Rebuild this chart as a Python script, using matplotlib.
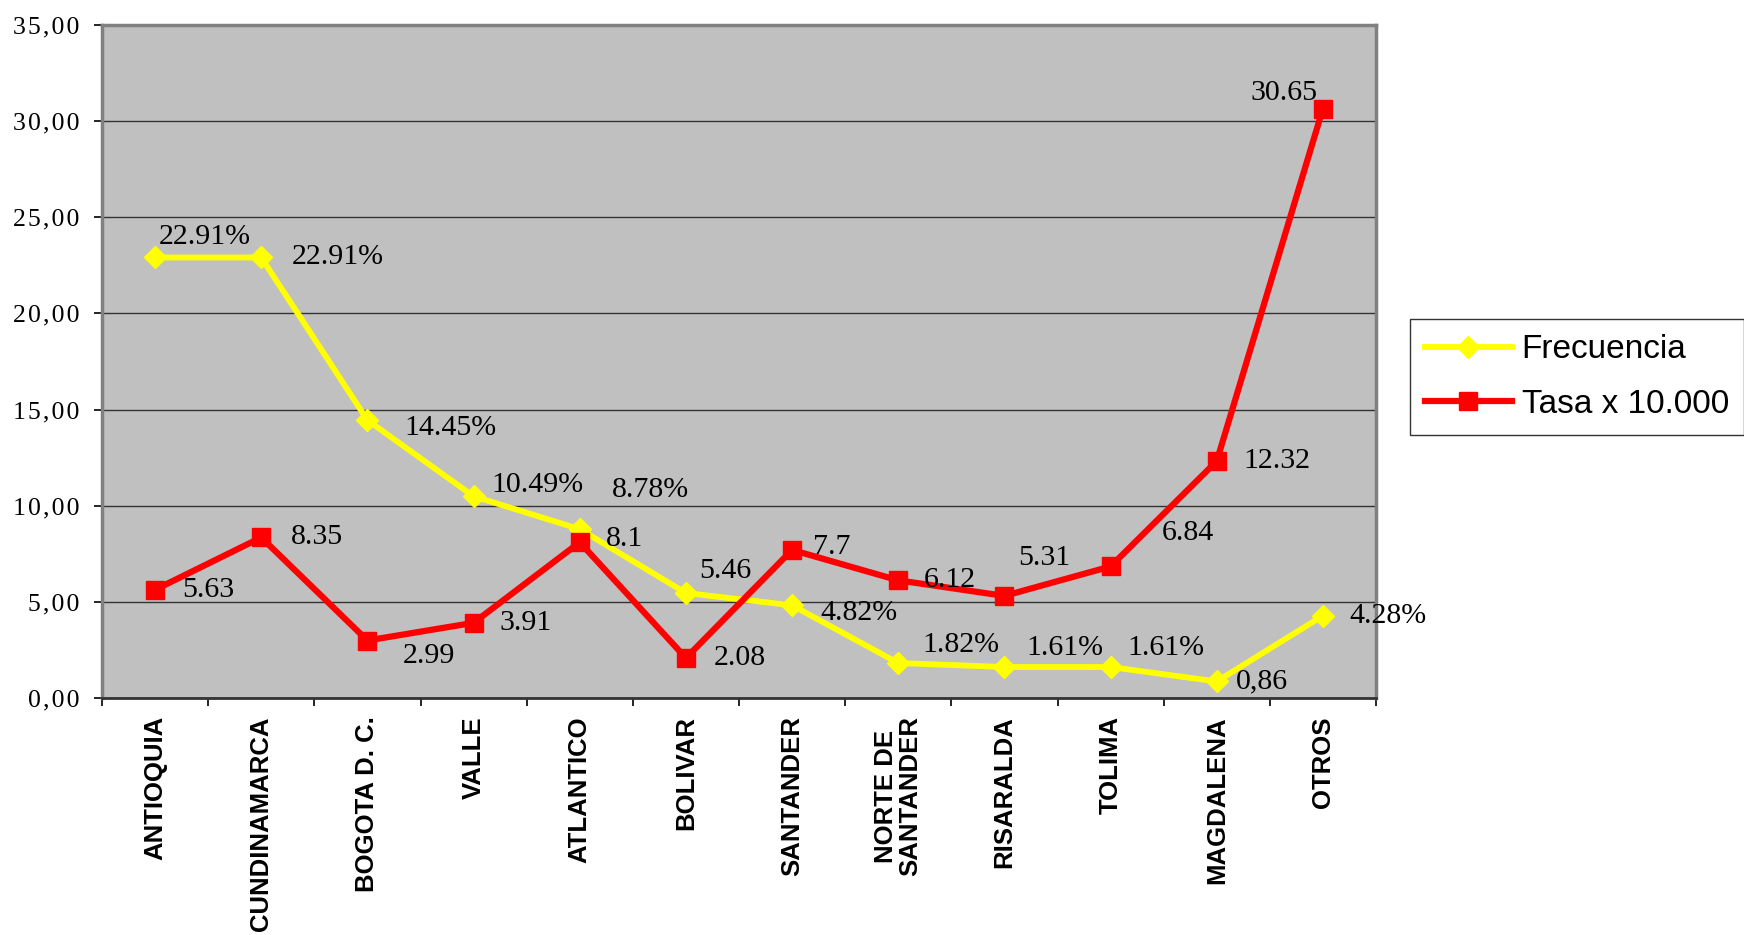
import numpy as np
import matplotlib.pyplot as plt
from matplotlib.ticker import MultipleLocator, FuncFormatter

departamentos = ["ANTIOQUIA", "CUNDINAMARCA", "BOGOTA D. C.", "VALLE", "ATLANTICO",
                 "BOLIVAR", "SANTANDER", "NORTE DE\nSANTANDER", "RISARALDA", "TOLIMA",
                 "MAGDALENA", "OTROS"]
frecuencia = [22.91, 22.91, 14.45, 10.49, 8.78, 5.46, 4.82, 1.82, 1.61, 1.61, 0.86, 4.28]
frec_labels = ["22.91%", "22.91%", "14.45%", "10.49%", "8.78%", "5.46", "4.82%",
               "1.82%", "1.61%", "1.61%", "0,86", "4.28%"]
tasa = [5.63, 8.35, 2.99, 3.91, 8.1, 2.08, 7.7, 6.12, 5.31, 6.84, 12.32, 30.65]
tasa_labels = ["5.63", "8.35", "2.99", "3.91", "8.1", "2.08", "7.7", "6.12", "5.31",
               "6.84", "12.32", "30.65"]

# label offsets in pixels (dx, dy with dy down)
frec_off = [(50, -20), (76, 0), (83, 8), (64, -11), (71, -39), (39, -22), (67, 8),
            (63, -18), (60, -19), (55, -19), (45, 0), (65, 0)]
tasa_off = [(53, 0), (56, 0), (62, 15), (52, 0), (45, -3), (54, 0), (40, -3),
            (52, 0), (40, -38), (77, -33), (60, 0), (-39, -16)]

SERIF = "Liberation Serif"
SANS = "Liberation Sans"

fig = plt.figure(figsize=(17.44, 9.35), dpi=100)
ax = fig.add_axes([102 / 1744, 1 - 698 / 935, 1274 / 1744, 673 / 935])
ax.set_facecolor("#C0C0C0")

x = np.arange(len(departamentos))
ax.plot(x, frecuencia, color="#FFFF00", lw=4.2, marker="D", ms=11,
        label="Frecuencia", zorder=3)
ax.plot(x, tasa, color="#FF0000", lw=4.5, marker="s", ms=13,
        label="Tasa x 10.000", zorder=4)

for xi, yi, lab, (dx, dy) in zip(x, frecuencia, frec_labels, frec_off):
    ax.annotate(lab, (xi, yi), xytext=(dx, -dy), textcoords="offset pixels",
                ha="center", va="center", fontsize=21.5, family=SERIF, zorder=5)
for xi, yi, lab, (dx, dy) in zip(x, tasa, tasa_labels, tasa_off):
    ax.annotate(lab, (xi, yi), xytext=(dx, -dy), textcoords="offset pixels",
                ha="center", va="center", fontsize=21.5, family=SERIF, zorder=5)

ax.set_xlim(-0.5, len(departamentos) - 0.5)
ax.set_ylim(0, 35)
ax.yaxis.set_major_locator(MultipleLocator(5))
ax.yaxis.set_major_formatter(
    FuncFormatter(lambda v, p: "\u200a".join(f"{v:.2f}".replace(".", ","))))
ax.grid(axis="y", color="#333333", lw=1)
ax.set_axisbelow(True)

ax.set_xticks(x)
ax.set_xticklabels(departamentos, rotation=90, ha="center", va="top",
                   family=SANS, fontsize=18.5, fontweight="bold", linespacing=1.0)
ax.set_xticks(np.arange(-0.5, len(departamentos), 1), minor=True)
ax.tick_params(axis="x", which="major", length=0, pad=13)
ax.tick_params(axis="x", which="minor", length=6, width=1.2, direction="out")
ax.tick_params(axis="y", length=6, width=1.2, pad=10, labelsize=18.5)
for t in ax.get_yticklabels():
    t.set_family(SERIF)

for side in ["left", "top", "right"]:
    ax.spines[side].set_color("#808080")
    ax.spines[side].set_linewidth(2.5)
ax.spines["bottom"].set_color("#333333")
ax.spines["bottom"].set_linewidth(2)

leg = fig.legend(loc="center left", bbox_to_anchor=(1410 / 1744, 1 - 377 / 935),
                 prop={"family": SANS, "size": 24}, frameon=True, fancybox=False,
                 edgecolor="black", handlelength=2.6, handletextpad=0.3,
                 labelspacing=0.7, borderpad=0.45, borderaxespad=0)
leg.get_frame().set_linewidth(1)

plt.savefig("out.png", dpi=100)
